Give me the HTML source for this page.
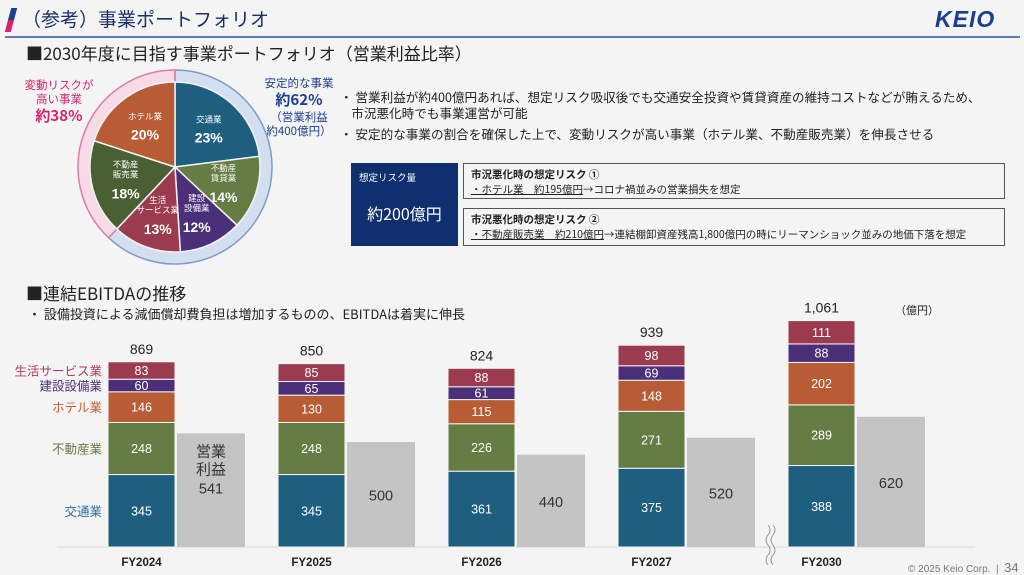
<!DOCTYPE html>
<html><head><meta charset="utf-8">
<style>
body{margin:0;width:1024px;height:575px;background:#f4f4f4;font-family:"Liberation Sans","Noto Sans CJK JP",sans-serif;position:relative;overflow:hidden;color:#222}
.abs{position:absolute;white-space:nowrap}
.jp{font-family:"Noto Sans CJK JP","Liberation Sans",sans-serif}
</style></head><body>
<div class="abs" style="left:8px;top:8px;width:6px;height:24px;background:linear-gradient(#1b3f8f 0 50%,#d6246e 50%);transform:skewX(-15deg)"></div>
<div class="abs jp" style="left:22px;top:5px;font-size:19px;color:#1b2f6b">（参考）事業ポートフォリオ</div>
<div class="abs" style="left:935px;top:6px;font-size:23px;font-weight:bold;font-style:italic;color:#1b3f8f;letter-spacing:1px">KEIO</div>
<div class="abs" style="left:5px;top:36px;width:1015px;height:2px;background:#5a7fb5"></div>
<div class="abs jp" style="left:26px;top:40px;font-size:17px;color:#222">■2030年度に目指す事業ポートフォリオ（営業利益比率）</div>

<svg class="abs" style="left:0;top:0" width="340" height="290" id="pie"></svg>
<div class="abs jp" style="left:18px;top:78px;width:82px;text-align:center;font-size:11.5px;color:#d6246e;line-height:14px">変動リスクが<br>高い事業<br><b style="font-size:15px;line-height:20px">約38%</b></div>
<div class="abs jp" style="left:258px;top:76px;width:82px;text-align:center;font-size:11.5px;color:#1b3f8f;line-height:14px">安定的な事業<br><b style="font-size:15px;line-height:20px">約62%</b><br>（営業利益<br>約400億円）</div>

<div class="abs jp" style="left:340px;top:89px;font-size:12.6px;line-height:16px">・ 営業利益が約400億円あれば、想定リスク吸収後でも交通安全投資や賃貸資産の維持コストなどが賄えるため、<br>&nbsp;&nbsp;&nbsp;&nbsp;市況悪化時でも事業運営が可能</div>
<div class="abs jp" style="left:340px;top:124px;font-size:12.6px">・ 安定的な事業の割合を確保した上で、変動リスクが高い事業（ホテル業、不動産販売業）を伸長させる</div>

<div class="abs jp" style="left:351px;top:163px;width:107px;height:83px;background:#0f2f6e;color:#fff">
<div style="position:absolute;left:8px;top:7px;font-size:9.5px">想定リスク量</div>
<div style="position:absolute;left:0;width:107px;text-align:center;top:38px;font-size:16px">約200億円</div></div>
<div class="abs jp" style="left:463px;top:163px;width:542px;height:36px;border:1.5px solid #555;box-sizing:border-box;font-size:10.5px;padding:3px 7px;line-height:15px"><b>市況悪化時の想定リスク ①</b><br><u>・ホテル業　約195億円</u>→コロナ禍並みの営業損失を想定</div>
<div class="abs jp" style="left:463px;top:208px;width:542px;height:38px;border:1.5px solid #555;box-sizing:border-box;font-size:10.5px;padding:3px 7px;line-height:15px"><b>市況悪化時の想定リスク ②</b><br><u>・不動産販売業　約210億円</u>→連結棚卸資産残高1,800億円の時にリーマンショック並みの地価下落を想定</div>

<div class="abs jp" style="left:26px;top:280px;font-size:17px">■連結EBITDAの推移</div>
<div class="abs jp" style="left:28px;top:304px;font-size:13px">・ 設備投資による減価償却費負担は増加するものの、EBITDAは着実に伸長</div>
<div class="abs jp" style="left:895px;top:302px;font-size:11px">（億円）</div>

<svg class="abs" style="left:0;top:0" width="1024" height="575" id="bar"></svg>
<div class="abs" style="left:908px;top:560px;font-size:10px;color:#777">© 2025 Keio Corp.&nbsp; |&nbsp; <span style="font-size:13px">34</span></div>

<script>
const pieNames=["交通業","不動産\n賃貸業","建設\n設備業","生活\nサービス業","不動産\n販売業","ホテル業"];
const pieValues=[23,14,12,13,18,20];
const pieColors=["#1e5f80","#667c45","#4b2f78","#9c3b50","#4a5f33","#b85c35"];

const years=["FY2024","FY2025","FY2026","FY2027","FY2030"];
const transport=[345,345,361,375,388];
const realEstate=[248,248,226,271,289];
const hotel=[146,130,115,148,202];
const construction=[60,65,61,69,88];
const lifeService=[83,85,88,98,111];
const totals=["869","850","824","939","1,061"];
const opProfit=[541,500,440,520,620];
const segNames=["交通業","不動産業","ホテル業","建設設備業","生活サービス業"];
const segColors=["#1e5f80","#667c45","#b85c35","#4b2f78","#9c3b50"];
const labelColors=["#2a6fa0","#667c45","#c0602e","#4b2f78","#b03c5a"];

const NS="http://www.w3.org/2000/svg";
function mk(p,t,a){const e=document.createElementNS(NS,t);for(const k in a)e.setAttribute(k,a[k]);p.appendChild(e);return e;}
const pie=document.getElementById('pie');
const cx=175,cy=167,r=85,R=97;
function pt(rad,f){const a=f*2*Math.PI-Math.PI/2;return [cx+rad*Math.cos(a),cy+rad*Math.sin(a)];}
function arc(rad,f0,f1){const p0=pt(rad,f0),p1=pt(rad,f1);return `M${cx},${cy}L${p0[0]},${p0[1]}A${rad},${rad} 0 ${f1-f0>0.5?1:0} 1 ${p1[0]},${p1[1]}Z`;}
const sum=pieValues.reduce((a,b)=>a+b,0);
let stable=(pieValues[0]+pieValues[1]+pieValues[2]+pieValues[3])/sum;
let ring1=mk(pie,'path',{d:arc(R,0,stable),fill:'#d3dff0',stroke:'#7f9cc4','stroke-width':1.5});


let ring2=mk(pie,'path',{d:arc(R,stable,1),fill:'#f6dbe7',stroke:'#e07aa8','stroke-width':1.5});


let acc=0;
pieValues.forEach((v,i)=>{
  const f0=acc/sum,f1=(acc+v)/sum;acc+=v;
  const s=mk(pie,'path',{d:arc(r,f0,f1),fill:pieColors[i],stroke:'#f4f4f4','stroke-width':1.5});
  
  
  const m=pt(r*0.6,(f0+f1)/2);
  const lines=pieNames[i].split("\n");
  const t=mk(pie,'text',{x:m[0],y:m[1]-6-(lines.length-1)*6,'text-anchor':'middle',fill:'#fff','font-size':8.5,'font-family':'Noto Sans CJK JP,sans-serif'});
  
  
  lines.forEach((l,j)=>{const ts=mk(t,'tspan',{x:m[0],dy:j?10:0});ts.textContent=l;});
  const p=mk(pie,'text',{x:m[0],y:m[1]+14+(lines.length-1)*5,'text-anchor':'middle',fill:'#fff','font-size':14,'font-weight':'bold','font-family':'Liberation Sans,sans-serif'});
  p.textContent=v+'%';
  
  
});
const svg=document.getElementById('bar');
const base=547,k=0.21,bw=67;
function y(v){return base-v*k;}
function xs(i){return 108+i*170;}
const bl=mk(svg,'line',{x1:57,x2:975,y1:base,y2:base,stroke:'#d8d8d8','stroke-width':1});


const series=[transport,realEstate,hotel,construction,lifeService];
years.forEach((yr,i)=>{
  let cum=0;const x=xs(i);
  series.forEach((s,j)=>{
    const v=s[i];
    const rc=mk(svg,'rect',{x:x,y:y(cum+v),width:bw,height:v*k,fill:segColors[j],stroke:'#f4f4f4','stroke-width':1});
    
    
    const t=mk(svg,'text',{x:x+bw/2,y:y(cum+v/2)+4.5,'text-anchor':'middle',fill:'#fff','font-size':12.5});
    t.textContent=v;
    
    
    if(i===0){
      const l=mk(svg,'text',{x:102,y:y(cum+v/2)+5,'text-anchor':'end',fill:labelColors[j],'font-size':12.5,'font-family':'Noto Sans CJK JP,sans-serif'});
      l.textContent=segNames[j];
      
      
    }
    cum+=v;
  });
  const tt=mk(svg,'text',{x:x+bw/2,y:y(cum)-8,'text-anchor':'middle',fill:'#222','font-size':14});
  tt.textContent=totals[i];
  
  
  const gx=x+69;
  const g=mk(svg,'rect',{x:gx,y:y(opProfit[i]),width:68,height:opProfit[i]*k,fill:'#c4c4c4'});
  
  
  const gt=mk(svg,'text',{x:gx+34,y:i===0?y(opProfit[i])+60:(y(opProfit[i])+base)/2+6,'text-anchor':'middle',fill:'#333','font-size':14.5});
  gt.textContent=opProfit[i];
  
  
  if(i===0){
    const o=mk(svg,'text',{x:gx+34,y:y(opProfit[i])+23,'text-anchor':'middle',fill:'#333','font-size':15,'font-family':'Noto Sans CJK JP,sans-serif'});
    
    
    const a=mk(o,'tspan',{x:gx+34,dy:0});a.textContent='営業';
    const b=mk(o,'tspan',{x:gx+34,dy:18});b.textContent='利益';
  }
  const xl=mk(svg,'text',{x:x+bw/2,y:566,'text-anchor':'middle',fill:'#222','font-size':11.5,'font-weight':'bold'});
  xl.textContent=yr;
  
  
});
const br=mk(svg,'path',{d:'M768,525 q4,5 0,10 q-4,5 0,10 q4,5 0,10 q-4,5 0,10 M773,525 q4,5 0,10 q-4,5 0,10 q4,5 0,10 q-4,5 0,10',fill:'none',stroke:'#999','stroke-width':1});


</script>
</body></html>
